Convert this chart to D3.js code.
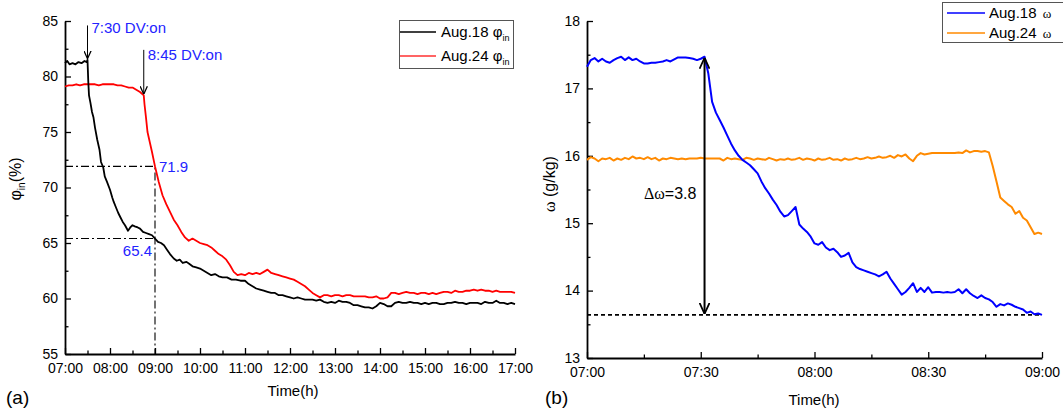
<!DOCTYPE html>
<html>
<head>
<meta charset="utf-8">
<script src="https://cdn.jsdelivr.net/npm/d3@7"></script>
<style>
  body { margin: 0; background: #fff; }
  svg { display: block; }
  text { font-family: "Liberation Sans", Arial, sans-serif; fill: #000; }
</style>
</head>
<body>
<svg id="chart" width="1063" height="416"></svg>
<script>
// ---------- data: (a) indoor relative humidity, % ----------
const phiAug18 = [
  ["07:00",81.2],["07:03",81.4],["07:06",81.1],["07:10",81.2],["07:14",81.1],["07:18",81.3],["07:22",81.2],["07:26",81.4],["07:29",81.3],["07:30",81.5],
  ["07:31",79.6],["07:32",78.3],["07:34",77.6],["07:36",76.8],["07:38",76.3],["07:40",75.4],["07:43",74.3],["07:46",73.4],["07:48",72.3],["07:51",71.8],
  ["07:53",71.0],["07:56",70.5],["08:00",69.8],["08:03",69.1],["08:05",68.7],["08:08",68.2],["08:11",67.7],["08:14",67.3],["08:17",66.9],["08:20",66.6],
  ["08:24",66.1],["08:27",66.4],["08:30",66.6],["08:33",66.5],["08:37",66.4],["08:40",66.3],["08:44",66.0],["08:48",65.9],["08:52",65.8],["08:56",65.7],
  ["09:00",65.4],["09:04",65.1],["09:08",65.0],["09:12",64.8],["09:16",64.4],["09:20",64.0],["09:25",63.6],["09:29",63.4],["09:33",63.5],["09:37",63.2],
  ["09:42",63.3],["09:46",63.1],["09:50",62.9],["09:55",62.8],["10:00",62.7],["10:05",62.5],["10:10",62.3],["10:15",62.1],["10:20",62.2],["10:25",62.0],
  ["10:30",61.9],["10:36",61.9],["10:42",61.7],["10:48",61.7],["10:54",61.6],["11:00",61.6],["11:05",61.3],["11:10",61.1],["11:15",60.9],["11:20",60.8],
  ["11:25",60.7],["11:30",60.6],["11:35",60.5],["11:40",60.5],["11:45",60.3],["11:50",60.3],["11:55",60.2],["12:00",60.1],["12:05",60.0],["12:10",60.1],
  ["12:15",60.0],["12:20",59.9],["12:25",59.9],["12:30",59.9],["12:35",59.8],["12:40",59.9],["12:45",59.7],["12:50",59.6],["12:55",59.7],["13:00",59.6],
  ["13:05",59.8],["13:10",59.7],["13:15",59.7],["13:20",59.6],["13:25",59.4],["13:30",59.4],["13:35",59.3],["13:40",59.2],["13:45",59.2],["13:50",59.1],
  ["13:55",59.3],["14:00",59.6],["14:05",59.5],["14:10",59.3],["14:15",59.3],["14:20",59.6],["14:25",59.7],["14:30",59.6],["14:35",59.6],["14:40",59.7],
  ["14:45",59.6],["14:50",59.6],["14:55",59.5],["15:00",59.6],["15:05",59.5],["15:10",59.6],["15:15",59.6],["15:20",59.5],["15:25",59.5],["15:30",59.6],
  ["15:35",59.6],["15:40",59.7],["15:45",59.6],["15:50",59.6],["15:55",59.5],["16:00",59.6],["16:05",59.6],["16:10",59.6],["16:15",59.5],["16:20",59.7],
  ["16:25",59.6],["16:30",59.6],["16:35",59.8],["16:40",59.6],["16:45",59.6],["16:50",59.5],["16:55",59.6],["17:00",59.5]
];
const phiAug24 = [
  ["07:00",79.1],["07:05",79.2],["07:10",79.2],["07:15",79.3],["07:20",79.2],["07:25",79.3],["07:30",79.3],["07:35",79.3],["07:40",79.3],["07:45",79.2],
  ["07:50",79.3],["07:55",79.3],["08:00",79.3],["08:05",79.3],["08:10",79.2],["08:15",79.2],["08:20",79.1],["08:25",79.0],["08:30",79.0],["08:35",78.8],
  ["08:40",78.6],["08:45",78.3],["08:46",77.5],["08:48",76.3],["08:50",75.0],["08:53",74.1],["08:56",73.2],["09:00",71.9],["09:05",70.5],["09:10",69.3],
  ["09:15",68.5],["09:20",67.8],["09:25",67.1],["09:30",66.6],["09:35",66.0],["09:40",65.5],["09:45",65.2],["09:50",65.4],["09:55",65.2],["10:00",65.0],
  ["10:05",64.9],["10:10",64.8],["10:15",64.6],["10:20",64.3],["10:25",64.0],["10:30",63.8],["10:35",63.5],["10:40",63.0],["10:45",62.4],["10:50",62.1],
  ["10:55",62.2],["11:00",62.1],["11:05",62.3],["11:10",62.2],["11:15",62.3],["11:20",62.2],["11:25",62.4],["11:30",62.6],["11:35",62.3],["11:40",62.2],
  ["11:45",62.1],["11:50",62.0],["11:55",61.9],["12:00",61.8],["12:05",61.7],["12:10",61.5],["12:15",61.3],["12:20",61.1],["12:25",60.8],["12:30",60.5],
  ["12:35",60.3],["12:40",60.1],["12:45",60.3],["12:50",60.3],["12:55",60.2],["13:00",60.3],["13:05",60.3],["13:10",60.2],["13:15",60.3],["13:20",60.3],
  ["13:25",60.2],["13:30",60.2],["13:35",60.2],["13:40",60.2],["13:45",60.1],["13:50",60.1],["13:55",60.2],["14:00",60.0],["14:05",60.0],["14:10",60.1],
  ["14:15",60.5],["14:20",60.5],["14:25",60.4],["14:30",60.5],["14:35",60.6],["14:40",60.5],["14:45",60.5],["14:50",60.4],["14:55",60.5],["15:00",60.5],
  ["15:05",60.4],["15:10",60.5],["15:15",60.4],["15:20",60.5],["15:25",60.6],["15:30",60.6],["15:35",60.5],["15:40",60.7],["15:45",60.6],["15:50",60.6],
  ["15:55",60.7],["16:00",60.7],["16:05",60.8],["16:10",60.7],["16:15",60.8],["16:20",60.7],["16:25",60.7],["16:30",60.6],["16:35",60.7],["16:40",60.6],
  ["16:45",60.6],["16:50",60.6],["16:55",60.6],["17:00",60.5]
];

// ---------- data: (b) humidity ratio, g/kg ----------
const omegaAug18 = [
  ["07:00",17.32],["07:01",17.42],["07:02",17.45],["07:03",17.40],["07:04",17.44],["07:05",17.40],["07:06",17.38],["07:07",17.42],["07:08",17.45],["07:09",17.47],
  ["07:10",17.42],["07:11",17.46],["07:12",17.42],["07:13",17.44],["07:14",17.40],["07:15",17.37],["07:16",17.37],["07:17",17.38],["07:18",17.38],["07:19",17.39],
  ["07:20",17.40],["07:21",17.42],["07:22",17.40],["07:23",17.43],["07:24",17.46],["07:25",17.46],["07:26",17.46],["07:27",17.45],["07:28",17.44],["07:29",17.42],
  ["07:30",17.44],["07:31",17.47],["07:32",17.22],["07:33",16.80],["07:34",16.64],["07:35",16.53],["07:36",16.42],["07:37",16.30],["07:38",16.18],["07:39",16.08],
  ["07:40",16.00],["07:41",15.94],["07:42",15.90],["07:43",15.86],["07:44",15.80],["07:45",15.74],["07:46",15.62],["07:47",15.52],["07:48",15.44],["07:49",15.35],
  ["07:50",15.27],["07:51",15.17],["07:52",15.10],["07:53",15.12],["07:54",15.18],["07:55",15.24],["07:56",14.98],["07:57",14.92],["07:58",14.87],["07:59",14.80],
  ["08:00",14.70],["08:01",14.68],["08:02",14.72],["08:03",14.64],["08:04",14.60],["08:05",14.62],["08:06",14.57],["08:07",14.50],["08:08",14.52],["08:09",14.56],
  ["08:10",14.42],["08:11",14.35],["08:12",14.32],["08:13",14.30],["08:14",14.28],["08:15",14.26],["08:16",14.24],["08:17",14.21],["08:18",14.24],["08:19",14.28],
  ["08:20",14.18],["08:21",14.10],["08:22",14.02],["08:23",13.94],["08:24",13.98],["08:25",14.04],["08:26",14.11],["08:27",13.98],["08:28",14.04],["08:29",13.98],
  ["08:30",14.05],["08:31",13.97],["08:32",13.98],["08:33",13.98],["08:34",13.97],["08:35",13.98],["08:36",13.97],["08:37",13.98],["08:38",14.02],["08:39",13.96],
  ["08:40",14.02],["08:41",13.96],["08:42",13.92],["08:43",13.89],["08:44",13.93],["08:45",13.89],["08:46",13.87],["08:47",13.83],["08:48",13.76],["08:49",13.80],
  ["08:50",13.78],["08:51",13.81],["08:52",13.79],["08:53",13.76],["08:54",13.74],["08:55",13.72],["08:56",13.67],["08:57",13.69],["08:58",13.65],["08:59",13.66],
  ["09:00",13.64]
];
const omegaAug24 = [
  ["07:00",15.94],["07:01",15.98],["07:02",15.96],["07:03",15.92],["07:04",15.96],["07:05",15.95],["07:06",15.97],["07:07",15.93],["07:08",15.96],["07:09",15.94],
  ["07:10",15.97],["07:11",15.95],["07:12",15.99],["07:13",15.96],["07:14",15.97],["07:15",15.95],["07:16",15.98],["07:17",15.95],["07:18",15.97],["07:19",15.93],
  ["07:20",15.96],["07:21",15.95],["07:22",15.97],["07:23",15.96],["07:24",15.95],["07:25",15.96],["07:26",15.95],["07:27",15.96],["07:28",15.96],["07:29",15.96],
  ["07:30",15.97],["07:31",15.96],["07:32",15.96],["07:33",15.96],["07:34",15.96],["07:35",15.96],["07:36",15.93],["07:37",15.97],["07:38",15.95],["07:39",15.96],
  ["07:40",15.95],["07:41",15.94],["07:42",15.97],["07:43",15.96],["07:44",15.94],["07:45",15.96],["07:46",15.95],["07:47",15.94],["07:48",15.97],["07:49",15.95],
  ["07:50",15.93],["07:51",15.95],["07:52",15.94],["07:53",15.96],["07:54",15.94],["07:55",15.95],["07:56",15.97],["07:57",15.94],["07:58",15.96],["07:59",15.95],
  ["08:00",15.93],["08:01",15.96],["08:02",15.94],["08:03",15.95],["08:04",15.97],["08:05",15.94],["08:06",15.95],["08:07",15.93],["08:08",15.96],["08:09",15.94],
  ["08:10",15.95],["08:11",15.97],["08:12",15.95],["08:13",15.96],["08:14",15.98],["08:15",15.96],["08:16",15.97],["08:17",15.99],["08:18",15.97],["08:19",15.98],
  ["08:20",16.00],["08:21",15.97],["08:22",16.01],["08:23",15.99],["08:24",16.02],["08:25",15.96],["08:26",15.92],["08:27",16.00],["08:28",16.04],["08:29",16.02],
  ["08:30",16.03],["08:31",16.04],["08:32",16.04],["08:33",16.04],["08:34",16.04],["08:35",16.04],["08:36",16.04],["08:37",16.04],["08:38",16.05],["08:39",16.04],
  ["08:40",16.08],["08:41",16.05],["08:42",16.07],["08:43",16.07],["08:44",16.06],["08:45",16.07],["08:46",16.05],["08:47",15.85],["08:48",15.62],["08:49",15.38],
  ["08:50",15.33],["08:51",15.28],["08:52",15.24],["08:53",15.14],["08:54",15.18],["08:55",15.08],["08:56",15.04],["08:57",14.94],["08:58",14.84],["08:59",14.86],
  ["09:00",14.84]
];

// ---------- tick labels ----------
const phiTicks = [55, 60, 65, 70, 75, 80, 85];
const hourTicksA = ["07:00","08:00","09:00","10:00","11:00","12:00","13:00","14:00","15:00","16:00","17:00"];
const omegaTicks = [13, 14, 15, 16, 17, 18];
const timeTicksB = ["07:00","07:30","08:00","08:30","09:00"];

// ---------- set-up ----------
const svg = d3.select("#chart");
const parseT = d3.timeParse("%H:%M");
const fmtT = d3.timeFormat("%H:%M");
const toPts = arr => arr.map(([t, v]) => ({ t: parseT(t), v }));
const valueAt = (arr, t) => arr.find(d => d[0] === t)[1];
const BLUE_TXT = "#2323ff";
const SERIF = "Liberation Serif, Times New Roman, serif";

const defs = svg.append("defs");
function chevron(id, size) {
  defs.append("marker")
    .attr("id", id).attr("markerUnits", "userSpaceOnUse")
    .attr("viewBox", "0 0 10 10").attr("refX", 10).attr("refY", 5)
    .attr("markerWidth", size).attr("markerHeight", size)
    .attr("orient", "auto-start-reverse")
    .append("path").attr("d", "M0,0.5 L10,5 L0,9.5")
    .attr("fill", "none").attr("stroke", "#000").attr("stroke-width", 1.6);
}
chevron("arrSmall", 8);
chevron("arrBig", 11);

function drawAxes(g, x, y, xMajor, xMinor, yMajor, yMinor, yFmt) {
  const bottom = y.range()[0];
  const left = x.range()[0];
  // minor ticks
  g.append("g").attr("transform", `translate(0,${bottom})`)
    .call(d3.axisBottom(x).tickValues(xMinor).tickFormat("").tickSizeInner(-3.5).tickSizeOuter(0))
    .call(a => a.select(".domain").remove())
    .call(a => a.selectAll("line").attr("stroke-width", 1.3));
  g.append("g").attr("transform", `translate(${left},0)`)
    .call(d3.axisLeft(y).tickValues(yMinor).tickFormat("").tickSizeInner(-3.5).tickSizeOuter(0))
    .call(a => a.select(".domain").remove())
    .call(a => a.selectAll("line").attr("stroke-width", 1.3));
  // major ticks and labels
  g.append("g").attr("transform", `translate(0,${bottom})`)
    .call(d3.axisBottom(x).tickValues(xMajor).tickFormat(fmtT).tickSizeInner(-6).tickSizeOuter(0).tickPadding(9))
    .call(a => a.select(".domain").attr("stroke-width", 1.8))
    .call(a => a.selectAll("line").attr("stroke-width", 1.3))
    .call(a => a.selectAll("text").attr("font-size", 14).attr("font-family", "Liberation Sans, Arial, sans-serif"));
  g.append("g").attr("transform", `translate(${left},0)`)
    .call(d3.axisLeft(y).tickValues(yMajor).tickFormat(yFmt).tickSizeInner(-6).tickSizeOuter(0).tickPadding(7))
    .call(a => a.select(".domain").attr("stroke-width", 1.8))
    .call(a => a.selectAll("line").attr("stroke-width", 1.3))
    .call(a => a.selectAll("text").attr("font-size", 14).attr("dy", "0.3em").attr("font-family", "Liberation Sans, Arial, sans-serif"));
}

// =================== panel (a) ===================
const xA = d3.scaleTime().domain([parseT("07:00"), parseT("17:00")]).range([65, 515]);
const yA = d3.scaleLinear().domain([55, 85]).range([354, 21]);
const gA = svg.append("g");

const halfHoursA = d3.timeMinute.every(30).range(parseT("07:00"), parseT("17:01")).filter(d => d.getMinutes() === 30);
drawAxes(gA, xA, yA, hourTicksA.map(parseT), halfHoursA,
  phiTicks, [57.5, 62.5, 67.5, 72.5, 77.5, 82.5], d3.format("d"));

// reading guides at 09:00
const t9 = parseT("09:00");
const phi24At9 = valueAt(phiAug24, "09:00");
const phi18At9 = valueAt(phiAug18, "09:00");
gA.append("path")
  .attr("d", `M${xA.range()[0]},${yA(phi24At9)} H${xA(t9)} V${yA(55)} M${xA.range()[0]},${yA(phi18At9)} H${xA(t9)}`)
  .attr("fill", "none").attr("stroke", "#000").attr("stroke-width", 1.1)
  .attr("stroke-dasharray", "8,3,2,3");

const lineA = d3.line().x(d => xA(d.t)).y(d => yA(d.v));
gA.append("path").datum(toPts(phiAug24)).attr("d", lineA)
  .attr("fill", "none").attr("stroke", "#ff0000").attr("stroke-width", 1.8).attr("stroke-linejoin", "round");
gA.append("path").datum(toPts(phiAug18)).attr("d", lineA)
  .attr("fill", "none").attr("stroke", "#000").attr("stroke-width", 1.8).attr("stroke-linejoin", "round");

// switch-on arrows
const t730 = parseT("07:30"), t845 = parseT("08:45");
gA.append("line").attr("x1", xA(t730)).attr("x2", xA(t730)).attr("y1", yA(84.6)).attr("y2", yA(81.6))
  .attr("stroke", "#000").attr("stroke-width", 1).attr("marker-end", "url(#arrSmall)");
gA.append("line").attr("x1", xA(t845)).attr("x2", xA(t845)).attr("y1", yA(82.4)).attr("y2", yA(78.4))
  .attr("stroke", "#000").attr("stroke-width", 1).attr("marker-end", "url(#arrSmall)");
gA.append("text").attr("x", xA(t730) + 4).attr("y", 33).attr("font-size", 15).style("fill", BLUE_TXT).text("7:30 DV:on");
gA.append("text").attr("x", xA(t845) + 4).attr("y", 60).attr("font-size", 15).style("fill", BLUE_TXT).text("8:45 DV:on");
gA.append("text").attr("x", xA(t9) + 4).attr("y", yA(phi24At9) + 6).attr("font-size", 15).style("fill", BLUE_TXT).text(phi24At9.toFixed(1));
gA.append("text").attr("x", xA(t9) - 3).attr("y", yA(phi18At9) + 17).attr("font-size", 15).attr("text-anchor", "end").style("fill", BLUE_TXT).text(phi18At9.toFixed(1));

// axis titles
const ylabA = gA.append("text").attr("transform", "translate(21,179) rotate(-90)").attr("text-anchor", "middle").attr("font-size", 16);
ylabA.append("tspan").text("φ");
ylabA.append("tspan").attr("font-size", 10).attr("dy", 4).text("in");
ylabA.append("tspan").attr("dy", -4).text("(%)");
gA.append("text").attr("x", 293).attr("y", 396).attr("text-anchor", "middle").attr("font-size", 15).text("Time(h)");
svg.append("text").attr("x", 6).attr("y", 404).attr("font-size", 19).text("(a)");

// legend (a)
const legA = gA.append("g");
legA.append("rect").attr("x", 399.5).attr("y", 20.5).attr("width", 114).attr("height", 48)
  .attr("fill", "#fff").attr("stroke", "#555").attr("stroke-width", 1);
[["#000", 32], ["#ff3030", 56]].forEach(([c, yy], i) => {
  legA.append("line").attr("x1", 400).attr("x2", 436).attr("y1", yy).attr("y2", yy).attr("stroke", c).attr("stroke-width", 1.4);
  const t = legA.append("text").attr("x", 441).attr("y", yy + 5).attr("font-size", 15);
  t.append("tspan").text(i === 0 ? "Aug.18 φ" : "Aug.24 φ");
  t.append("tspan").attr("font-size", 9).attr("dy", 4).text("in");
});

// =================== panel (b) ===================
const xB = d3.scaleTime().domain([parseT("07:00"), parseT("09:00")]).range([587, 1042]);
const yB = d3.scaleLinear().domain([13, 18]).range([358, 21]);
const gB = svg.append("g");

drawAxes(gB, xB, yB, timeTicksB.map(parseT), ["07:15", "07:45", "08:15", "08:45"].map(parseT),
  omegaTicks, [13.5, 14.5, 15.5, 16.5, 17.5], d3.format("d"));

// dehumidification starts at 07:31 and the run ends at 09:00
const tStart = "07:31";
const omegaStart = valueAt(omegaAug18, tStart);
const omegaEnd = valueAt(omegaAug18, "09:00");

// final-level reference line
gB.append("line").attr("x1", xB.range()[0]).attr("x2", xB.range()[1])
  .attr("y1", yB(omegaEnd)).attr("y2", yB(omegaEnd))
  .attr("stroke", "#000").attr("stroke-width", 1.6).attr("stroke-dasharray", "4,3");

const lineB = d3.line().x(d => xB(d.t)).y(d => yB(d.v));
gB.append("path").datum(toPts(omegaAug24)).attr("d", lineB)
  .attr("fill", "none").attr("stroke", "#ff8a00").attr("stroke-width", 2).attr("stroke-linejoin", "round");
gB.append("path").datum(toPts(omegaAug18)).attr("d", lineB)
  .attr("fill", "none").attr("stroke", "#0000ff").attr("stroke-width", 2).attr("stroke-linejoin", "round");

// drop arrow
const tS = parseT(tStart);
gB.append("line").attr("x1", xB(tS)).attr("x2", xB(tS))
  .attr("y1", yB(omegaStart) + 1).attr("y2", yB(omegaEnd) - 1)
  .attr("stroke", "#000").attr("stroke-width", 2)
  .attr("marker-start", "url(#arrBig)").attr("marker-end", "url(#arrBig)");
const dl = gB.append("text").attr("x", 644).attr("y", 199).attr("font-size", 16);
dl.append("tspan").attr("font-family", SERIF).text("Δω");
dl.append("tspan").text("=" + (omegaStart - omegaEnd).toFixed(1));

// axis titles
const ylabB = gB.append("text").attr("transform", "translate(555,184) rotate(-90)").attr("text-anchor", "middle").attr("font-size", 16);
ylabB.append("tspan").attr("font-family", SERIF).text("ω");
ylabB.append("tspan").text(" (g/kg)");
gB.append("text").attr("x", 814).attr("y", 405).attr("text-anchor", "middle").attr("font-size", 15).text("Time(h)");
svg.append("text").attr("x", 545).attr("y", 404).attr("font-size", 19).text("(b)");

// legend (b)
const legB = gB.append("g");
legB.append("rect").attr("x", 942.5).attr("y", 2.5).attr("width", 125).attr("height", 40)
  .attr("fill", "#fff").attr("stroke", "#555").attr("stroke-width", 1);
[["#0000ff", 13, "Aug.18"], ["#ff8a00", 33, "Aug.24"]].forEach(([c, yy, lab]) => {
  legB.append("line").attr("x1", 947).attr("x2", 985).attr("y1", yy).attr("y2", yy).attr("stroke", c).attr("stroke-width", 1.6);
  const t = legB.append("text").attr("x", 989).attr("y", yy + 5).attr("font-size", 15);
  t.append("tspan").text(lab + " ");
  t.append("tspan").attr("font-family", SERIF).attr("font-size", 13).attr("dx", 2).text("ω");
});
</script>
</body>
</html>
